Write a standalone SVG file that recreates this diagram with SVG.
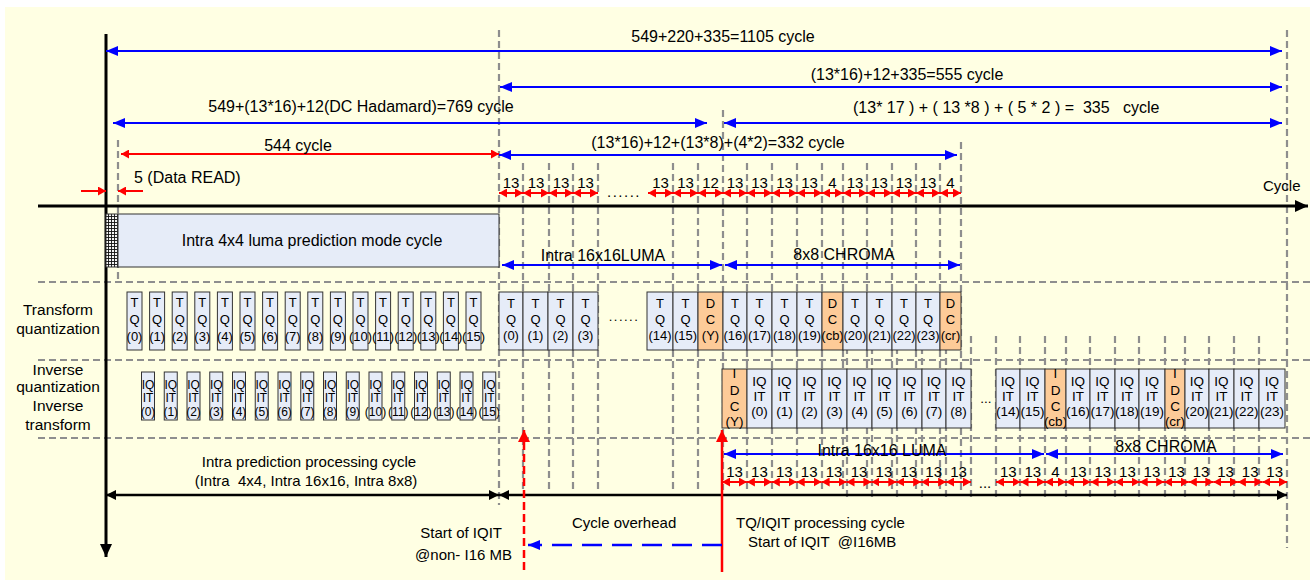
<svg xmlns="http://www.w3.org/2000/svg" width="1315" height="585" viewBox="0 0 1315 585">
<style>
.t{font-family:"Liberation Sans",Arial,Helvetica,sans-serif;fill:#000}
.a16{font-size:16px}
.a15{font-size:15px}
.c{text-anchor:middle}
.gd{stroke:#8e8e8e;stroke-width:2.2;stroke-dasharray:7 4;fill:none}
.bx{fill:#E6ECF8;stroke:#333;stroke-width:1}
.or{fill:#FDCB98;stroke:#333;stroke-width:1}
.b1{font-family:"Liberation Sans",Arial,sans-serif;font-size:13px;text-anchor:middle}
.b2{font-family:"Liberation Sans",Arial,sans-serif;font-size:12px;text-anchor:middle}
.b3{font-family:"Liberation Sans",Arial,sans-serif;font-size:13.5px;text-anchor:middle}
.bl{stroke:#0000FF;stroke-width:2;fill:none;marker-start:url(#ba);marker-end:url(#ba)}
.rd{stroke:#FF0000;stroke-width:2;fill:none;marker-start:url(#ra);marker-end:url(#ra)}
.rd1{stroke:#FF0000;stroke-width:2;fill:none;marker-end:url(#ra)}
.bk{stroke:#000;stroke-width:2.5;fill:none;marker-start:url(#ka);marker-end:url(#ka)}
</style>
<defs>
<marker id="ba" viewBox="0 0 12 10" refX="12" refY="5" markerWidth="12" markerHeight="10" markerUnits="userSpaceOnUse" orient="auto-start-reverse"><path d="M0,0 L12,5 L0,10 z" fill="#0000FF"/></marker>
<marker id="ra" viewBox="0 0 8 9" refX="8" refY="4.5" markerWidth="8" markerHeight="9" markerUnits="userSpaceOnUse" orient="auto-start-reverse"><path d="M0,0 L8,4.5 L0,9 z" fill="#FF0000"/></marker>
<marker id="rb" viewBox="0 0 12 12" refX="12" refY="6" markerWidth="12" markerHeight="12" markerUnits="userSpaceOnUse" orient="auto-start-reverse"><path d="M0,0 L12,6 L0,12 z" fill="#FF0000"/></marker>
<marker id="ka" viewBox="0 0 10 10" refX="10" refY="5" markerWidth="10" markerHeight="10" markerUnits="userSpaceOnUse" orient="auto-start-reverse"><path d="M0,0 L10,5 L0,10 z" fill="#000"/></marker>
<marker id="kb" viewBox="0 0 13 12" refX="13" refY="6" markerWidth="13" markerHeight="12" markerUnits="userSpaceOnUse" orient="auto"><path d="M0,0 L13,6 L0,12 z" fill="#000"/></marker>
<pattern id="hatch" width="3" height="3" patternUnits="userSpaceOnUse"><rect width="3" height="3" fill="#f4f4f4"/><path d="M0,0.5 H3 M0.5,0 V3" stroke="#111" stroke-width="0.9"/></pattern>
</defs>
<rect width="1315" height="585" fill="#fff"/>
<rect x="5" y="7" width="1305" height="573" fill="#FFFFE3"/>

<g id="grid">
<path class="gd" d="M38,282H1310M38,360H1310M38,438H1310"/>
<path class="gd" d="M499,30V505M1287,30V548M118,140V282M723,110V490M961,142V490"/>
<path class="gd" d="M523,163V490M549,163V490M573,163V490M598,163V490M673,163V490M698,163V490M747,163V490M772,163V490M797,163V490M822,163V490M843,163V490M867,163V490M892,163V490M916,163V490M940,163V490"/>
<path class="gd" d="M847,336V500M872,336V500M897,336V500M922,336V500M946,336V500M971,336V500M996,336V500M1020,336V500M1045,336V500M1066,336V500M1090,336V500M1115,336V500M1139,336V500M1165,336V500M1185,336V500M1209,336V500M1234,336V500M1259,336V500"/>
</g>

<g id="axes">
<line x1="38" y1="206" x2="1308" y2="206" stroke="#000" stroke-width="3" marker-end="url(#kb)"/>
<line x1="106" y1="34" x2="106" y2="557" stroke="#000" stroke-width="3" marker-end="url(#kb)"/>
<text class="t a15" x="1263" y="191">Cycle</text>
</g>

<g id="intra4x4">
<rect x="106" y="214" width="12" height="53" fill="url(#hatch)" stroke="#333"/>
<rect x="118" y="214" width="381" height="53" class="bx"/>
<text class="t a16 c" x="312" y="246">Intra 4x4 luma prediction mode cycle</text>
</g>

<g id="labels">
<text class="t c" style="font-size:15.5px" x="58" y="315">Transform</text>
<text class="t c" style="font-size:15.5px" x="58" y="334">quantization</text>
<text class="t c" style="font-size:15.5px" x="58" y="375">Inverse</text>
<text class="t c" style="font-size:15.5px" x="58" y="392">quantization</text>
<text class="t c" style="font-size:15.5px" x="58" y="411">Inverse</text>
<text class="t c" style="font-size:15.5px" x="58" y="430">transform</text>
</g>

<g id="tq-left">
<g id="tql0"><rect class="bx" x="127" y="292" width="15" height="58"/><text class="b1"><tspan x="134.5" y="307">T</tspan><tspan x="134.5" y="324">Q</tspan><tspan x="134.5" y="341">(0)</tspan></text></g>
<g id="tql1"><rect class="bx" x="149.6" y="292" width="15" height="58"/><text class="b1"><tspan x="157.1" y="307">T</tspan><tspan x="157.1" y="324">Q</tspan><tspan x="157.1" y="341">(1)</tspan></text></g>
<g id="tql2"><rect class="bx" x="172.2" y="292" width="15" height="58"/><text class="b1"><tspan x="179.7" y="307">T</tspan><tspan x="179.7" y="324">Q</tspan><tspan x="179.7" y="341">(2)</tspan></text></g>
<g id="tql3"><rect class="bx" x="194.8" y="292" width="15" height="58"/><text class="b1"><tspan x="202.3" y="307">T</tspan><tspan x="202.3" y="324">Q</tspan><tspan x="202.3" y="341">(3)</tspan></text></g>
<g id="tql4"><rect class="bx" x="217.4" y="292" width="15" height="58"/><text class="b1"><tspan x="224.9" y="307">T</tspan><tspan x="224.9" y="324">Q</tspan><tspan x="224.9" y="341">(4)</tspan></text></g>
<g id="tql5"><rect class="bx" x="240" y="292" width="15" height="58"/><text class="b1"><tspan x="247.5" y="307">T</tspan><tspan x="247.5" y="324">Q</tspan><tspan x="247.5" y="341">(5)</tspan></text></g>
<g id="tql6"><rect class="bx" x="262.6" y="292" width="15" height="58"/><text class="b1"><tspan x="270.1" y="307">T</tspan><tspan x="270.1" y="324">Q</tspan><tspan x="270.1" y="341">(6)</tspan></text></g>
<g id="tql7"><rect class="bx" x="285.2" y="292" width="15" height="58"/><text class="b1"><tspan x="292.7" y="307">T</tspan><tspan x="292.7" y="324">Q</tspan><tspan x="292.7" y="341">(7)</tspan></text></g>
<g id="tql8"><rect class="bx" x="307.8" y="292" width="15" height="58"/><text class="b1"><tspan x="315.3" y="307">T</tspan><tspan x="315.3" y="324">Q</tspan><tspan x="315.3" y="341">(8)</tspan></text></g>
<g id="tql9"><rect class="bx" x="330.4" y="292" width="15" height="58"/><text class="b1"><tspan x="337.9" y="307">T</tspan><tspan x="337.9" y="324">Q</tspan><tspan x="337.9" y="341">(9)</tspan></text></g>
<g id="tql10"><rect class="bx" x="353" y="292" width="15" height="58"/><text class="b1"><tspan x="360.5" y="307">T</tspan><tspan x="360.5" y="324">Q</tspan><tspan x="360.5" y="341">(10)</tspan></text></g>
<g id="tql11"><rect class="bx" x="375.6" y="292" width="15" height="58"/><text class="b1"><tspan x="383.1" y="307">T</tspan><tspan x="383.1" y="324">Q</tspan><tspan x="383.1" y="341">(11)</tspan></text></g>
<g id="tql12"><rect class="bx" x="398.2" y="292" width="15" height="58"/><text class="b1"><tspan x="405.7" y="307">T</tspan><tspan x="405.7" y="324">Q</tspan><tspan x="405.7" y="341">(12)</tspan></text></g>
<g id="tql13"><rect class="bx" x="420.8" y="292" width="15" height="58"/><text class="b1"><tspan x="428.3" y="307">T</tspan><tspan x="428.3" y="324">Q</tspan><tspan x="428.3" y="341">(13)</tspan></text></g>
<g id="tql14"><rect class="bx" x="443.4" y="292" width="15" height="58"/><text class="b1"><tspan x="450.9" y="307">T</tspan><tspan x="450.9" y="324">Q</tspan><tspan x="450.9" y="341">(14)</tspan></text></g>
<g id="tql15"><rect class="bx" x="466" y="292" width="15" height="58"/><text class="b1"><tspan x="473.5" y="307">T</tspan><tspan x="473.5" y="324">Q</tspan><tspan x="473.5" y="341">(15)</tspan></text></g>
</g>

<g id="iqit-left">
<g id="iql0"><rect class="bx" x="141.5" y="372" width="13" height="48"/><text class="b2"><tspan x="148" y="389">IQ</tspan><tspan x="148" y="402">IT</tspan><tspan x="148" y="416">(0)</tspan></text></g>
<g id="iql1"><rect class="bx" x="164.25" y="372" width="13" height="48"/><text class="b2"><tspan x="170.75" y="389">IQ</tspan><tspan x="170.75" y="402">IT</tspan><tspan x="170.75" y="416">(1)</tspan></text></g>
<g id="iql2"><rect class="bx" x="187" y="372" width="13" height="48"/><text class="b2"><tspan x="193.5" y="389">IQ</tspan><tspan x="193.5" y="402">IT</tspan><tspan x="193.5" y="416">(2)</tspan></text></g>
<g id="iql3"><rect class="bx" x="209.75" y="372" width="13" height="48"/><text class="b2"><tspan x="216.25" y="389">IQ</tspan><tspan x="216.25" y="402">IT</tspan><tspan x="216.25" y="416">(3)</tspan></text></g>
<g id="iql4"><rect class="bx" x="232.5" y="372" width="13" height="48"/><text class="b2"><tspan x="239" y="389">IQ</tspan><tspan x="239" y="402">IT</tspan><tspan x="239" y="416">(4)</tspan></text></g>
<g id="iql5"><rect class="bx" x="255.25" y="372" width="13" height="48"/><text class="b2"><tspan x="261.75" y="389">IQ</tspan><tspan x="261.75" y="402">IT</tspan><tspan x="261.75" y="416">(5)</tspan></text></g>
<g id="iql6"><rect class="bx" x="278" y="372" width="13" height="48"/><text class="b2"><tspan x="284.5" y="389">IQ</tspan><tspan x="284.5" y="402">IT</tspan><tspan x="284.5" y="416">(6)</tspan></text></g>
<g id="iql7"><rect class="bx" x="300.75" y="372" width="13" height="48"/><text class="b2"><tspan x="307.25" y="389">IQ</tspan><tspan x="307.25" y="402">IT</tspan><tspan x="307.25" y="416">(7)</tspan></text></g>
<g id="iql8"><rect class="bx" x="323.5" y="372" width="13" height="48"/><text class="b2"><tspan x="330" y="389">IQ</tspan><tspan x="330" y="402">IT</tspan><tspan x="330" y="416">(8)</tspan></text></g>
<g id="iql9"><rect class="bx" x="346.25" y="372" width="13" height="48"/><text class="b2"><tspan x="352.75" y="389">IQ</tspan><tspan x="352.75" y="402">IT</tspan><tspan x="352.75" y="416">(9)</tspan></text></g>
<g id="iql10"><rect class="bx" x="369" y="372" width="13" height="48"/><text class="b2"><tspan x="375.5" y="389">IQ</tspan><tspan x="375.5" y="402">IT</tspan><tspan x="375.5" y="416">(10)</tspan></text></g>
<g id="iql11"><rect class="bx" x="391.75" y="372" width="13" height="48"/><text class="b2"><tspan x="398.25" y="389">IQ</tspan><tspan x="398.25" y="402">IT</tspan><tspan x="398.25" y="416">(11)</tspan></text></g>
<g id="iql12"><rect class="bx" x="414.5" y="372" width="13" height="48"/><text class="b2"><tspan x="421" y="389">IQ</tspan><tspan x="421" y="402">IT</tspan><tspan x="421" y="416">(12)</tspan></text></g>
<g id="iql13"><rect class="bx" x="437.25" y="372" width="13" height="48"/><text class="b2"><tspan x="443.75" y="389">IQ</tspan><tspan x="443.75" y="402">IT</tspan><tspan x="443.75" y="416">(13)</tspan></text></g>
<g id="iql14"><rect class="bx" x="460" y="372" width="13" height="48"/><text class="b2"><tspan x="466.5" y="389">IQ</tspan><tspan x="466.5" y="402">IT</tspan><tspan x="466.5" y="416">(14)</tspan></text></g>
<g id="iql15"><rect class="bx" x="482.75" y="372" width="13" height="48"/><text class="b2"><tspan x="489.25" y="389">IQ</tspan><tspan x="489.25" y="402">IT</tspan><tspan x="489.25" y="416">(15)</tspan></text></g>
</g>

<g id="tq-right">
<g id="tqr0"><rect class="bx" x="499" y="292" width="24" height="58"/><text class="b1"><tspan x="511" y="308">T</tspan><tspan x="511" y="324">Q</tspan><tspan x="511" y="340">(0)</tspan></text></g>
<g id="tqr1"><rect class="bx" x="523" y="292" width="25" height="58"/><text class="b1"><tspan x="535.5" y="308">T</tspan><tspan x="535.5" y="324">Q</tspan><tspan x="535.5" y="340">(1)</tspan></text></g>
<g id="tqr2"><rect class="bx" x="548" y="292" width="25" height="58"/><text class="b1"><tspan x="560.5" y="308">T</tspan><tspan x="560.5" y="324">Q</tspan><tspan x="560.5" y="340">(2)</tspan></text></g>
<g id="tqr3"><rect class="bx" x="573" y="292" width="25" height="58"/><text class="b1"><tspan x="585.5" y="308">T</tspan><tspan x="585.5" y="324">Q</tspan><tspan x="585.5" y="340">(3)</tspan></text></g>
<text class="b1" x="624" y="321" style="letter-spacing:1.5px">......</text>
<g id="tqr14"><rect class="bx" x="647" y="292" width="26" height="58"/><text class="b1"><tspan x="660" y="308">T</tspan><tspan x="660" y="324">Q</tspan><tspan x="660" y="340">(14)</tspan></text></g>
<g id="tqr15"><rect class="bx" x="673" y="292" width="25" height="58"/><text class="b1"><tspan x="685.5" y="308">T</tspan><tspan x="685.5" y="324">Q</tspan><tspan x="685.5" y="340">(15)</tspan></text></g>
<g id="dcy"><rect class="or" x="698" y="292" width="25" height="58"/><text class="b1"><tspan x="710.5" y="308">D</tspan><tspan x="710.5" y="324">C</tspan><tspan x="710.5" y="340">(Y)</tspan></text></g>
<g id="tqr16"><rect class="bx" x="723" y="292" width="24" height="58"/><text class="b1"><tspan x="735" y="308">T</tspan><tspan x="735" y="324">Q</tspan><tspan x="735" y="340">(16)</tspan></text></g>
<g id="tqr17"><rect class="bx" x="747" y="292" width="25" height="58"/><text class="b1"><tspan x="759.5" y="308">T</tspan><tspan x="759.5" y="324">Q</tspan><tspan x="759.5" y="340">(17)</tspan></text></g>
<g id="tqr18"><rect class="bx" x="772" y="292" width="25" height="58"/><text class="b1"><tspan x="784.5" y="308">T</tspan><tspan x="784.5" y="324">Q</tspan><tspan x="784.5" y="340">(18)</tspan></text></g>
<g id="tqr19"><rect class="bx" x="797" y="292" width="25" height="58"/><text class="b1"><tspan x="809.5" y="308">T</tspan><tspan x="809.5" y="324">Q</tspan><tspan x="809.5" y="340">(19)</tspan></text></g>
<g id="dccb"><rect class="or" x="822" y="292" width="21" height="58"/><text class="b1"><tspan x="832.5" y="308">D</tspan><tspan x="832.5" y="324">C</tspan><tspan x="832.5" y="340">(cb)</tspan></text></g>
<g id="tqr20"><rect class="bx" x="843" y="292" width="24" height="58"/><text class="b1"><tspan x="855" y="308">T</tspan><tspan x="855" y="324">Q</tspan><tspan x="855" y="340">(20)</tspan></text></g>
<g id="tqr21"><rect class="bx" x="867" y="292" width="25" height="58"/><text class="b1"><tspan x="879.5" y="308">T</tspan><tspan x="879.5" y="324">Q</tspan><tspan x="879.5" y="340">(21)</tspan></text></g>
<g id="tqr22"><rect class="bx" x="892" y="292" width="24" height="58"/><text class="b1"><tspan x="904" y="308">T</tspan><tspan x="904" y="324">Q</tspan><tspan x="904" y="340">(22)</tspan></text></g>
<g id="tqr23"><rect class="bx" x="916" y="292" width="24" height="58"/><text class="b1"><tspan x="928" y="308">T</tspan><tspan x="928" y="324">Q</tspan><tspan x="928" y="340">(23)</tspan></text></g>
<g id="dccr"><rect class="or" x="940" y="292" width="21" height="58"/><text class="b1"><tspan x="950.5" y="308">D</tspan><tspan x="950.5" y="324">C</tspan><tspan x="950.5" y="340">(cr)</tspan></text></g>
</g>

<g id="iqit-right">
<g id="idcy"><rect class="or" x="722" y="369" width="25" height="59"/><text class="b3"><tspan x="734.5" y="378">I</tspan><tspan x="734.5" y="395">D</tspan><tspan x="734.5" y="411">C</tspan><tspan x="734.5" y="426">(Y)</tspan></text></g>
<g id="iqr0"><rect class="bx" x="747" y="369" width="25" height="59"/><text class="b3"><tspan x="759.5" y="386">IQ</tspan><tspan x="759.5" y="401">IT</tspan><tspan x="759.5" y="416">(0)</tspan></text></g>
<g id="iqr1"><rect class="bx" x="772" y="369" width="25" height="59"/><text class="b3"><tspan x="784.5" y="386">IQ</tspan><tspan x="784.5" y="401">IT</tspan><tspan x="784.5" y="416">(1)</tspan></text></g>
<g id="iqr2"><rect class="bx" x="797" y="369" width="25" height="59"/><text class="b3"><tspan x="809.5" y="386">IQ</tspan><tspan x="809.5" y="401">IT</tspan><tspan x="809.5" y="416">(2)</tspan></text></g>
<g id="iqr3"><rect class="bx" x="822" y="369" width="25" height="59"/><text class="b3"><tspan x="834.5" y="386">IQ</tspan><tspan x="834.5" y="401">IT</tspan><tspan x="834.5" y="416">(3)</tspan></text></g>
<g id="iqr4"><rect class="bx" x="847" y="369" width="25" height="59"/><text class="b3"><tspan x="859.5" y="386">IQ</tspan><tspan x="859.5" y="401">IT</tspan><tspan x="859.5" y="416">(4)</tspan></text></g>
<g id="iqr5"><rect class="bx" x="872" y="369" width="25" height="59"/><text class="b3"><tspan x="884.5" y="386">IQ</tspan><tspan x="884.5" y="401">IT</tspan><tspan x="884.5" y="416">(5)</tspan></text></g>
<g id="iqr6"><rect class="bx" x="897" y="369" width="25" height="59"/><text class="b3"><tspan x="909.5" y="386">IQ</tspan><tspan x="909.5" y="401">IT</tspan><tspan x="909.5" y="416">(6)</tspan></text></g>
<g id="iqr7"><rect class="bx" x="922" y="369" width="24" height="59"/><text class="b3"><tspan x="934" y="386">IQ</tspan><tspan x="934" y="401">IT</tspan><tspan x="934" y="416">(7)</tspan></text></g>
<g id="iqr8"><rect class="bx" x="946" y="369" width="25" height="59"/><text class="b3"><tspan x="958.5" y="386">IQ</tspan><tspan x="958.5" y="401">IT</tspan><tspan x="958.5" y="416">(8)</tspan></text></g>
<text class="b3" x="986" y="403">...</text>
<g id="iqr14"><rect class="bx" x="996" y="369" width="24" height="59"/><text class="b3"><tspan x="1008" y="386">IQ</tspan><tspan x="1008" y="401">IT</tspan><tspan x="1008" y="416">(14)</tspan></text></g>
<g id="iqr15"><rect class="bx" x="1020" y="369" width="25" height="59"/><text class="b3"><tspan x="1032.5" y="386">IQ</tspan><tspan x="1032.5" y="401">IT</tspan><tspan x="1032.5" y="416">(15)</tspan></text></g>
<g id="idccb"><rect class="or" x="1045" y="369" width="21" height="59"/><text class="b3"><tspan x="1055.5" y="378">I</tspan><tspan x="1055.5" y="395">D</tspan><tspan x="1055.5" y="411">C</tspan><tspan x="1055.5" y="426">(cb)</tspan></text></g>
<g id="iqr16"><rect class="bx" x="1066" y="369" width="24" height="59"/><text class="b3"><tspan x="1078" y="386">IQ</tspan><tspan x="1078" y="401">IT</tspan><tspan x="1078" y="416">(16)</tspan></text></g>
<g id="iqr17"><rect class="bx" x="1090" y="369" width="25" height="59"/><text class="b3"><tspan x="1102.5" y="386">IQ</tspan><tspan x="1102.5" y="401">IT</tspan><tspan x="1102.5" y="416">(17)</tspan></text></g>
<g id="iqr18"><rect class="bx" x="1115" y="369" width="24" height="59"/><text class="b3"><tspan x="1127" y="386">IQ</tspan><tspan x="1127" y="401">IT</tspan><tspan x="1127" y="416">(18)</tspan></text></g>
<g id="iqr19"><rect class="bx" x="1139" y="369" width="26" height="59"/><text class="b3"><tspan x="1152" y="386">IQ</tspan><tspan x="1152" y="401">IT</tspan><tspan x="1152" y="416">(19)</tspan></text></g>
<g id="idccr"><rect class="or" x="1165" y="369" width="20" height="59"/><text class="b3"><tspan x="1175" y="378">I</tspan><tspan x="1175" y="395">D</tspan><tspan x="1175" y="411">C</tspan><tspan x="1175" y="426">(cr)</tspan></text></g>
<g id="iqr20"><rect class="bx" x="1185" y="369" width="24" height="59"/><text class="b3"><tspan x="1197" y="386">IQ</tspan><tspan x="1197" y="401">IT</tspan><tspan x="1197" y="416">(20)</tspan></text></g>
<g id="iqr21"><rect class="bx" x="1209" y="369" width="25" height="59"/><text class="b3"><tspan x="1221.5" y="386">IQ</tspan><tspan x="1221.5" y="401">IT</tspan><tspan x="1221.5" y="416">(21)</tspan></text></g>
<g id="iqr22"><rect class="bx" x="1234" y="369" width="25" height="59"/><text class="b3"><tspan x="1246.5" y="386">IQ</tspan><tspan x="1246.5" y="401">IT</tspan><tspan x="1246.5" y="416">(22)</tspan></text></g>
<g id="iqr23"><rect class="bx" x="1259" y="369" width="26" height="59"/><text class="b3"><tspan x="1272" y="386">IQ</tspan><tspan x="1272" y="401">IT</tspan><tspan x="1272" y="416">(23)</tspan></text></g>
</g>

<g id="connectors">
<line class="bl" x1="106" y1="51" x2="1282" y2="51"/>
<line class="bl" x1="500" y1="87" x2="1282" y2="87"/>
<line class="bl" x1="113" y1="123" x2="707" y2="123"/>
<line class="bl" x1="724" y1="123" x2="1282" y2="123"/>
<line class="rd" x1="121" y1="154" x2="499" y2="154"/>
<line class="bl" x1="499" y1="155" x2="957" y2="155"/>
<line class="rd1" x1="81" y1="191" x2="106" y2="191"/>
<line class="rd1" x1="143" y1="191" x2="118" y2="191"/>
<line class="bl" x1="502" y1="265" x2="722" y2="265"/>
<line class="bl" x1="725" y1="265" x2="960" y2="265"/>
<line class="bl" x1="724" y1="454" x2="1044" y2="454"/>
<line class="bl" x1="1046" y1="454" x2="1283" y2="454"/>
<path class="rd" d="M499,193H523"/><path class="rd" d="M523,193H549"/><path class="rd" d="M549,193H573"/><path class="rd" d="M573,193H598"/>
<path class="rd" d="M648,193H673"/><path class="rd" d="M673,193H698"/><path class="rd" d="M698,193H723"/><path class="rd" d="M723,193H747"/>
<path class="rd" d="M747,193H772"/><path class="rd" d="M772,193H797"/><path class="rd" d="M797,193H822"/><path class="rd" d="M822,193H843"/>
<path class="rd" d="M843,193H867"/><path class="rd" d="M867,193H892"/><path class="rd" d="M892,193H916"/><path class="rd" d="M916,193H940"/><path class="rd" d="M940,193H961"/>
<path class="rd" d="M722,482H746.9"/><path class="rd" d="M746.9,482H771.8"/><path class="rd" d="M771.8,482H796.7"/><path class="rd" d="M796.7,482H821.6"/><path class="rd" d="M821.6,482H846.5"/>
<path class="rd" d="M846.5,482H871.4"/><path class="rd" d="M871.4,482H896.3"/><path class="rd" d="M896.3,482H921.2"/><path class="rd" d="M921.2,482H946.1"/><path class="rd" d="M946.1,482H971"/>
<path class="rd" d="M996,482H1020.5"/><path class="rd" d="M1020.5,482H1045"/><path class="rd" d="M1045,482H1066"/>
<path class="rd" d="M1066,482H1090.6"/><path class="rd" d="M1090.6,482H1115.1"/><path class="rd" d="M1115.1,482H1139.7"/><path class="rd" d="M1139.7,482H1164.2"/><path class="rd" d="M1164.2,482H1188.8"/>
<path class="rd" d="M1188.8,482H1213.3"/><path class="rd" d="M1213.3,482H1237.9"/><path class="rd" d="M1237.9,482H1262.4"/><path class="rd" d="M1262.4,482H1287"/>
<line class="bk" x1="106" y1="495" x2="499" y2="495"/>
<line class="bk" x1="499" y1="495" x2="1287" y2="495"/>
<line x1="524" y1="570" x2="524" y2="430" stroke="#FF0000" stroke-width="2.5" stroke-dasharray="8 4" marker-end="url(#rb)"/>
<line x1="722" y1="572" x2="722" y2="430" stroke="#FF0000" stroke-width="2.5" marker-end="url(#rb)"/>
<line x1="722" y1="545" x2="528" y2="545" stroke="#0000FF" stroke-width="2.5" stroke-dasharray="20 10" marker-end="url(#ba)"/>
</g>

<g id="texts">
<text class="t a16 c" x="723" y="42">549+220+335=1105 cycle</text>
<text class="t a16 c" x="907" y="80">(13*16)+12+335=555 cycle</text>
<text class="t a16 c" x="361" y="112">549+(13*16)+12(DC Hadamard)=769 cycle</text>
<text class="t a16" x="853" y="113" xml:space="preserve">(13* 17 ) + ( 13 *8 ) + ( 5 * 2 ) =  335   cycle</text>
<text class="t a16 c" x="298" y="151">544 cycle</text>
<text class="t a16 c" x="718" y="148">(13*16)+12+(13*8)+(4*2)=332 cycle</text>
<text class="t a16" x="134" y="183">5 (Data READ)</text>
<text class="t a16 c" x="603" y="261">Intra 16x16LUMA</text>
<text class="t a16 c" x="844" y="260">8x8 CHROMA</text>
<text class="t a16 c" x="882" y="456">Intra 16x16 LUMA</text>
<text class="t a16 c" x="1166" y="452">8x8 CHROMA</text>
<g class="t a15 c">
<text x="511" y="188">13</text><text x="536" y="188">13</text><text x="561" y="188">13</text><text x="585.5" y="188">13</text>
<text x="660.5" y="188">13</text><text x="685.5" y="188">13</text><text x="710.5" y="188">12</text><text x="735" y="188">13</text>
<text x="759.5" y="188">13</text><text x="784.5" y="188">13</text><text x="809.5" y="188">13</text><text x="832.5" y="188">4</text>
<text x="855" y="188">13</text><text x="879.5" y="188">13</text><text x="904" y="188">13</text><text x="928" y="188">13</text><text x="950.5" y="188">4</text>
<text x="734.5" y="477">13</text><text x="759.4" y="477">13</text><text x="784.3" y="477">13</text><text x="809.2" y="477">13</text><text x="834" y="477">13</text>
<text x="859" y="477">13</text><text x="883.9" y="477">13</text><text x="908.8" y="477">13</text><text x="933.7" y="477">13</text><text x="958.6" y="477">13</text>
<text x="1008.3" y="477">13</text><text x="1032.8" y="477">13</text><text x="1055.5" y="477">4</text>
<text x="1078.3" y="477">13</text><text x="1102.8" y="477">13</text><text x="1127.4" y="477">13</text><text x="1151.9" y="477">13</text><text x="1176.5" y="477">13</text>
<text x="1201.1" y="477">13</text><text x="1225.6" y="477">13</text><text x="1250.2" y="477">13</text><text x="1274.7" y="477">13</text>
</g>
<text class="t a15 c" x="624" y="197" style="letter-spacing:1.5px">......</text>
<text class="t a15 c" x="985" y="488">...</text>
<text class="t a15 c" x="309" y="467">Intra prediction processing cycle</text>
<text class="t a15 c" x="306" y="486" xml:space="preserve">(Intra  4x4, Intra 16x16, Intra 8x8)</text>
<text class="t a15" x="502" y="538" text-anchor="end">Start of IQIT</text>
<text class="t a15" x="512" y="560" text-anchor="end">@non- I16 MB</text>
<text class="t a15" x="572" y="528">Cycle overhead</text>
<text class="t a15" x="736" y="528">TQ/IQIT processing cycle</text>
<text class="t a15" x="748" y="547" xml:space="preserve">Start of IQIT  @I16MB</text>
</g>
</svg>
